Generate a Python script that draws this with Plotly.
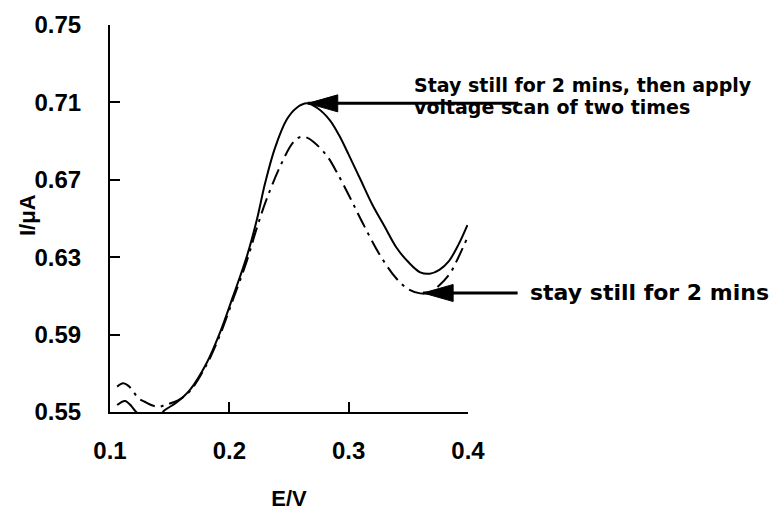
import plotly.graph_objects as go

# Potential (V)
e_solid = [0.106, 0.1126, 0.118, 0.122, 0.130, 0.140, 0.146, 0.156, 0.167, 0.181, 0.192, 0.203,
           0.2146, 0.223, 0.230, 0.238, 0.248, 0.256, 0.265, 0.274, 0.284, 0.292, 0.300, 0.310,
           0.320, 0.330, 0.340, 0.350, 0.360, 0.368, 0.376, 0.384, 0.392, 0.3995]
# Current (uA) - stay still 2 mins then voltage scan twice
i_solid = [0.5536, 0.5557, 0.5530, 0.5500, 0.5470, 0.5475, 0.5510, 0.5550, 0.5614, 0.5753, 0.5908, 0.6096,
           0.6303, 0.6492, 0.6683, 0.6860, 0.7010, 0.7070, 0.7095, 0.7070, 0.7010, 0.6930, 0.6830, 0.6700,
           0.6570, 0.6460, 0.6350, 0.6275, 0.6222, 0.6215, 0.6235, 0.6280, 0.6365, 0.6466]

e_dash = [0.106, 0.111, 0.1155, 0.1195, 0.124, 0.129, 0.135, 0.141, 0.146, 0.157, 0.167, 0.181,
          0.192, 0.203, 0.2146, 0.223, 0.231, 0.2425, 0.253, 0.259, 0.265, 0.2704, 0.2816, 0.290,
          0.301, 0.3123, 0.3263, 0.340, 0.350, 0.360, 0.368, 0.376, 0.385, 0.392, 0.399]
# Current (uA) - stay still 2 mins
i_dash = [0.5631, 0.5648, 0.5635, 0.5605, 0.5570, 0.5553, 0.5535, 0.5527, 0.5536, 0.5560, 0.5608, 0.5745,
          0.5895, 0.6080, 0.6280, 0.6450, 0.6596, 0.6768, 0.6890, 0.6920, 0.6918, 0.6897, 0.6825, 0.6740,
          0.6610, 0.6470, 0.6310, 0.6190, 0.6135, 0.6113, 0.6118, 0.6155, 0.6217, 0.6300, 0.6395]

x_ticks = [0.1, 0.2, 0.3, 0.4]
y_ticks = [0.55, 0.59, 0.63, 0.67, 0.71, 0.75]

label_top_1 = "Stay still for 2 mins, then apply"
label_top_2 = "voltage scan of two times"
label_bottom = "stay still for 2 mins"
x_title = "E/V"
y_title = "I/μA"

FONT = "Liberation Sans, Arial, sans-serif"
WIDE = "DejaVu Sans, Liberation Sans, sans-serif"

fig = go.Figure()
fig.add_trace(go.Scatter(x=e_dash, y=i_dash, mode="lines", line=dict(color="black", width=2, dash="16px,6px,3px,6px"),
                         line_shape="spline", showlegend=False))
fig.add_trace(go.Scatter(x=e_solid, y=i_solid, mode="lines", line=dict(color="black", width=2),
                         line_shape="spline", showlegend=False))

# arrows: line via annotation, head via pixel-sized shape
tip1 = (0.2657, 0.7095)
tip2 = (0.3624, 0.6115)
for (tx, ty), tail in [(tip1, 212), (tip2, 96)]:
    fig.add_annotation(x=tx, y=ty, xref="x", yref="y", ax=tail, ay=0, axref="pixel", ayref="pixel",
                       text="", showarrow=True, arrowhead=0, arrowwidth=3, arrowcolor="black", standoff=0)
    fig.add_shape(type="path", xref="x", yref="y", xsizemode="pixel", ysizemode="pixel",
                  xanchor=tx, yanchor=ty, path="M0,0 L30,-8.5 L30,8.5 Z",
                  fillcolor="black", line=dict(color="black", width=1))

for txt, py in [(label_top_1, 0.8437), (label_top_2, 0.7894)]:
    fig.add_annotation(x=0.8436, y=py, xref="paper", yref="paper", xanchor="left", yanchor="middle",
                       text=txt, showarrow=False, align="left",
                       font=dict(family=WIDE, size=19, color="black", weight="bold"))
fig.add_annotation(x=1.1676, y=0.3075, xref="paper", yref="paper", xanchor="left", yanchor="middle",
                   text=label_bottom, showarrow=False, align="left",
                   font=dict(family=WIDE, size=22, color="black", weight="bold"))
fig.add_annotation(x=-0.2318, y=0.509, xref="paper", yref="paper", xanchor="center", yanchor="middle",
                   text=y_title, textangle=-90, showarrow=False,
                   font=dict(family=FONT, size=22, color="black", weight="bold"))

axis_common = dict(showline=True, linecolor="black", linewidth=2, ticks="inside", ticklen=10, tickwidth=2,
                   tickcolor="black", showgrid=False, zeroline=False, mirror=False,
                   tickfont=dict(family=FONT, size=24, color="black", weight="bold"))
fig.update_xaxes(range=[0.1, 0.4], tickvals=x_ticks, ticktext=[f"{v:.1f}" for v in x_ticks],
                 ticklabelstandoff=16,
                 title=dict(text=x_title, font=dict(family=FONT, size=22, color="black", weight="bold"), standoff=29),
                 **axis_common)
fig.update_yaxes(range=[0.55, 0.75], tickvals=y_ticks, ticktext=[f"{v:.2f}" for v in y_ticks],
                 ticklabelstandoff=22, **axis_common)
fig.update_layout(width=773, height=511, margin=dict(l=110, r=305, t=25, b=99, autoexpand=False),
                  plot_bgcolor="white", paper_bgcolor="white")
fig.write_html("out.html", config={"displayModeBar": False},
               post_script="document.body.style.margin='0';document.body.style.overflow='hidden';")
